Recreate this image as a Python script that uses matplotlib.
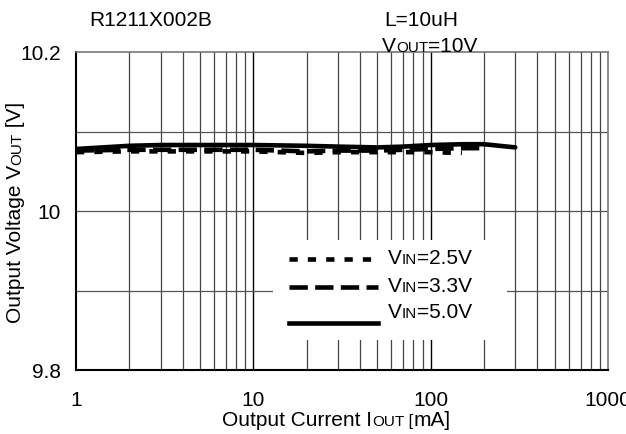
import numpy as np
import matplotlib.pyplot as plt
from matplotlib.lines import Line2D
from matplotlib.patches import Rectangle

plt.rcParams['font.family'] = ['Liberation Sans', 'DejaVu Sans']

# datos
iout_25 = [1, 2, 3, 5, 7, 10, 20, 30, 50, 70, 100, 150]
vout_25 = [10.074, 10.075, 10.075, 10.075, 10.075, 10.075, 10.073, 10.074, 10.074, 10.074, 10.074, 10.073]

iout_33 = [1, 2, 3, 5, 7, 10, 20, 30, 50, 70, 100, 150, 200]
vout_33 = [10.076, 10.077, 10.077, 10.077, 10.077, 10.077, 10.075, 10.076, 10.076, 10.077, 10.078, 10.079, 10.079]

iout_50 = [1, 2, 3, 5, 7, 10, 20, 30, 50, 70, 100, 150, 200, 300]
vout_50 = [10.078, 10.082, 10.083, 10.083, 10.083, 10.083, 10.082, 10.081, 10.080, 10.081, 10.083, 10.084, 10.084, 10.080]

labels = [("V", "IN", "=2.5V"), ("V", "IN", "=3.3V"), ("V", "IN", "=5.0V")]
xticks = [1, 10, 100, 1000]
yticks = [9.8, 10, 10.2]

W, H = 626, 434
fig = plt.figure(figsize=(W / 100, H / 100), dpi=100)
ax = fig.add_axes([76 / W, 1 - 370 / H, 532 / W, 318 / H])

ax.set_xscale('log')
ax.set_xlim(1, 1000)
ax.set_ylim(9.8, 10.2)

# grilla
for d in [1, 10, 100]:
    for k in range(2, 10):
        ax.axvline(d * k, color='#444444', lw=0.9, zorder=1)
    if d > 1:
        ax.axvline(d, color='black', lw=1.0, zorder=1)
for yv in [9.9, 10.0, 10.1]:
    ax.axhline(yv, color='#555555', lw=0.9, zorder=1)

ax.set_xticks(xticks)
ax.set_xticklabels(['1', '10', '100', '1000'])
ax.set_xticks([], minor=True)
ax.set_yticks(yticks)
ax.set_yticklabels(['9.8', '10', '10.2'])
ax.tick_params(length=0, labelsize=15)
ax.tick_params(axis='x', pad=15)
ax.tick_params(axis='y', pad=11)

for s in ['left', 'bottom']:
    ax.spines[s].set_color('black')
    ax.spines[s].set_linewidth(1.5)
for s in ['top', 'right']:
    ax.spines[s].set_color('#777777')
    ax.spines[s].set_linewidth(1.2)

lw = 3.3
ax.plot(iout_25, vout_25, color='black', lw=lw, ls=(0, (1.8, 2.2)), zorder=3)
ax.plot(iout_33, vout_33, color='black', lw=lw, ls=(0, (4, 1.6)), zorder=3)
ax.plot(iout_50, vout_50, color='black', lw=lw, ls='-', solid_capstyle='round', zorder=3)

# caja blanca de la leyenda
ax.add_patch(Rectangle((0.370, 0.094), 0.44, 0.315, transform=ax.transAxes,
                       facecolor='white', edgecolor='none', zorder=2))

def px(x, y):
    return x / W, 1 - y / H

styles = [(0, (1.8, 2.2)), (0, (4, 1.6)), '-']
sample_y = [259, 287, 323]
for st, sy in zip(styles, sample_y):
    x0, y0 = px(289, sy)
    x1, y1 = px(378, sy)
    fig.add_artist(Line2D([x0, x1], [y0, y1], color='black', lw=lw, ls=st, zorder=4))

fig.canvas.draw()
renderer = fig.canvas.get_renderer()

def write(x, y, parts, rot=0):
    # parts: (texto, tamano); x, y en pixeles desde arriba a la izquierda (linea base)
    for s, fs in parts:
        t = fig.text(x / W, 1 - y / H, s, fontsize=fs, rotation=rot,
                     rotation_mode='anchor', ha='left', va='baseline')
        bb = t.get_window_extent(renderer)
        if rot == 0:
            x = bb.x1
        else:
            y = H - bb.y1

base_y = [264, 292, 318]
for lab, by in zip(labels, base_y):
    write(388, by, [(lab[0], 15), (lab[1], 11), (lab[2], 15)])

write(89, 26, [("R1211X002B", 15)])
write(384, 26, [("L=10uH", 15)])
write(382, 52, [("V", 15), ("OUT", 11), ("=10V", 15)])

write(222, 426, [("Output Current I", 15), ("OUT", 11), (" [", 12), ("mA]", 15)])
write(21, 323, [("Output Voltage V", 15), ("OUT", 11), (" [V]", 15)], rot=90)

fig.savefig('out.png', dpi=100)
